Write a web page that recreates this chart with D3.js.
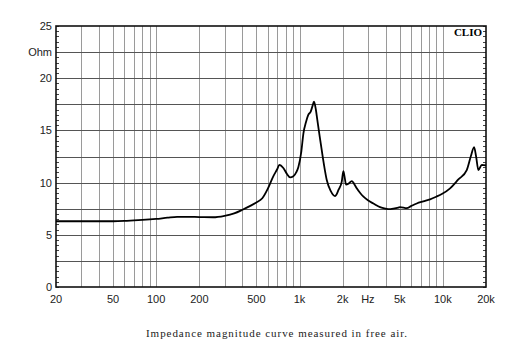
<!DOCTYPE html>
<html><head><meta charset="utf-8">
<script src="https://cdn.jsdelivr.net/npm/d3@7"></script>
<style>body{margin:0;background:#fff}svg{display:block}</style>
</head><body><svg id="c" width="518" height="355"></svg>
<script>
const freqs = [20,30,40,50,60,70,80,100,120,140,160,200,250,300,350,400,450,500,550,600,656,700,723,771,820,859,906,950,982,1030,1064,1110,1153,1197,1230,1262,1300,1331,1380,1429,1490,1549,1650,1770,1810,1870,1971,2023,2060,2113,2200,2315,2400,2507,2650,2794,3000,3277,3648,3846,4168,4516,4896,5032,5600,6000,6576,7300,8147,9000,9835,11230,12830,14680,15660,16520,17060,17700,18700,20000];
const impedance = [6.3,6.3,6.3,6.3,6.33,6.38,6.42,6.52,6.64,6.72,6.72,6.7,6.68,6.82,7.05,7.4,7.75,8.1,8.5,9.4,10.6,11.3,11.7,11.4,10.8,10.5,10.6,11.0,11.5,13.0,14.7,15.8,16.5,16.8,17.3,17.75,17.0,16.0,14.5,13.1,11.5,10.25,9.2,8.7,8.85,9.3,10.1,11.1,10.6,9.8,9.9,10.15,9.9,9.45,9.0,8.65,8.3,8.0,7.65,7.55,7.45,7.5,7.6,7.65,7.55,7.75,8.0,8.2,8.4,8.65,8.9,9.45,10.3,11.2,12.5,13.4,12.5,11.2,11.7,11.65];
const xTickVals = [20,50,100,200,500,1000,2000,3000,5000,10000,20000];
const xTickLabels = ["20","50","100","200","500","1k","2k","Hz","5k","10k","20k"];
const xGridVals = [30,40,50,60,70,80,90,100,200,300,400,500,600,700,800,900,1000,2000,3000,4000,5000,6000,7000,8000,9000,10000];
const yTickVals = [0,5,10,15,20,22.5,25];
const yTickLabels = ["0","5","10","15","20","Ohm","25"];
const yGridVals = [2.5,5,7.5,10,12.5,15,17.5,20,22.5];

const L=56,R=486,T=26,B=287;
const svg=d3.select("#c");
const x=d3.scaleLog().domain([20,20000]).range([L,R]);
const y=d3.scaleLinear().domain([0,25]).range([B,T]);

// vertical grid
svg.append("g").selectAll("line").data(xGridVals).join("line")
  .attr("x1",d=>Math.round(x(d))+0.5).attr("x2",d=>Math.round(x(d))+0.5)
  .attr("y1",T).attr("y2",B).attr("stroke","#9a9a9a").attr("stroke-width",1);
// horizontal grid
svg.append("g").selectAll("line").data(yGridVals).join("line")
  .attr("x1",L).attr("x2",R).attr("y1",d=>Math.round(y(d))+0.5).attr("y2",d=>Math.round(y(d))+0.5)
  .attr("stroke","#555").attr("stroke-width",1);
// minor ticks left & right
const minor=d3.range(0,25.01,0.5);
svg.append("g").selectAll("line").data(minor).join("line")
  .attr("x1",L).attr("x2",L+3).attr("y1",d=>Math.round(y(d))+0.5).attr("y2",d=>Math.round(y(d))+0.5)
  .attr("stroke","#444").attr("stroke-width",1);
svg.append("g").selectAll("line").data(minor).join("line")
  .attr("x1",R-3).attr("x2",R).attr("y1",d=>Math.round(y(d))+0.5).attr("y2",d=>Math.round(y(d))+0.5)
  .attr("stroke","#444").attr("stroke-width",1);
// frame
svg.append("rect").attr("x",L).attr("y",T).attr("width",R-L).attr("height",B-T)
  .attr("fill","none").attr("stroke","#111").attr("stroke-width",1.6);

// curve
const line=d3.line().x((d,i)=>x(freqs[i])).y(d=>y(d)).curve(d3.curveMonotoneX);
svg.append("path").attr("d",line(impedance)).attr("fill","none").attr("stroke","#000").attr("stroke-width",1.8).attr("stroke-linejoin","round");

// labels
const lab=svg.append("g").attr("font-family","'Liberation Sans',Arial,sans-serif").attr("font-size",11).attr("fill","#222");
lab.selectAll("text.y").data(yTickVals).join("text").attr("class","y")
  .attr("x",52).attr("y",d=>y(d)+4).attr("text-anchor","end").text((d,i)=>yTickLabels[i]);
lab.selectAll("text.x").data(xTickVals).join("text").attr("class","x")
  .attr("x",d=>x(d)).attr("y",303).attr("text-anchor","middle").text((d,i)=>xTickLabels[i]);

svg.append("text").attr("x",482).attr("y",36).attr("text-anchor","end")
  .attr("font-family","'Liberation Serif','Times New Roman',serif").attr("font-weight","bold").attr("font-size",11).text("CLIO");
svg.append("text").attr("x",146).attr("y",337).attr("textLength",261).attr("lengthAdjust","spacing")
  .attr("font-family","'Liberation Serif','Times New Roman',serif").attr("font-size",11).attr("fill","#222")
  .text("Impedance magnitude curve measured in free air.");
</script></body></html>
